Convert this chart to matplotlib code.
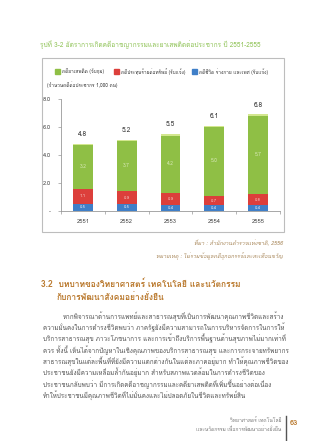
import matplotlib
matplotlib.use('Agg')
import matplotlib.pyplot as plt
from matplotlib import font_manager
from matplotlib.patches import Rectangle
from fontTools.ttLib import TTFont

# data
years = ['2551', '2552', '2553', '2554', '2555']
drugs = [3.2, 3.7, 4.2, 5.0, 5.7]        # green
property_cases = [1.1, 0.9, 0.9, 0.7, 0.8]  # red
body_cases = [0.5, 0.5, 0.4, 0.4, 0.4]   # blue
totals = [4.8, 5.2, 5.5, 6.1, 6.8]
yticks = [0, 2, 4, 6, 8]
ytick_labels = ['-', '2.0', '4.0', '6.0', '8.0']

title = 'รูปที่ 3-2 อัตราการเกิดคดีอาชญากรรมและยาเสพติดต่อประชากร ปี 2551-2555'
legend_labels = ['คดียาเสพติด (จับกุม)', 'คดีประทุษร้ายต่อทรัพย์ (รับแจ้ง)',
                 'คดีชีวิต ร่างกาย และเพศ (รับแจ้ง)']
unit_text = '(จำนวนคดีต่อประชากร 1,000 คน)'
source_lines = ['ที่มา : สำนักงานตำรวจแห่งชาติ, 2556',
                'หมายเหตุ : ไม่รวมข้อมูลคดีอุกฉกรรจ์และสะเทือนขวัญ']
heading = ['3.2  บทบาทของวิทยาศาสตร์ เทคโนโลยี และนวัตกรรม',
           'กับการพัฒนาสังคมอย่างยั่งยืน']
paragraph = [
    'หากพิจารณาด้านการแพทย์และสาธารณสุขที่เป็นการพัฒนาคุณภาพชีวิตและสร้าง',
    'ความมั่นคงในการดำรงชีวิตพบว่า ภาครัฐยังมีความสามารถในการบริหารจัดการในการให้',
    'บริการสาธารณสุข ภาวะโภชนาการ และการเข้าถึงบริการพื้นฐานด้านสุขภาพไม่มากเท่าที่',
    'ควร ทั้งนี้ เห็นได้จากปัญหาในเชิงคุณภาพของบริการสาธารณสุข และการกระจายทรัพยากร',
    'สาธารณสุขในแต่ละพื้นที่ที่ยังมีความแตกต่างกันในแต่ละภาคอยู่มาก ทำให้คุณภาพชีวิตของ',
    'ประชาชนยังมีความเหลื่อมล้ำกันอยู่มาก สำหรับสภาพแวดล้อมในการดำรงชีวิตของ',
    'ประชาชนกลับพบว่า มีการเกิดคดีอาชญากรรมและคดียาเสพติดที่เพิ่มขึ้นอย่างต่อเนื่อง',
    'ทำให้ประชาชนมีคุณภาพชีวิตที่ไม่มั่นคงและไม่ปลอดภัยในชีวิตและทรัพย์สิน',
]
footer = ['วิทยาศาสตร์ เทคโนโลยี', 'และนวัตกรรม เพื่อการพัฒนาอย่างยั่งยืน']
page_no = '63'


def thai_font():
    # look for any installed font that has Thai glyphs
    for f in font_manager.fontManager.ttflist:
        try:
            cmap = TTFont(f.fname, fontNumber=0, lazy=True).getBestCmap()
        except Exception:
            continue
        if cmap and 0x0E01 in cmap:
            return f.name
    return 'DejaVu Sans'


plt.rcParams['font.family'] = [thai_font(), 'DejaVu Sans']

W, H = 320, 441
fig = plt.figure(figsize=(W / 100, H / 100), dpi=100)
fig.patch.set_facecolor('white')


def fx(px):
    return px / W


def fy(py):
    return 1 - py / H


green = '#8fbf45'
green_top = '#d3e78f'
red = '#dc3f3b'
blue = '#3f7fc8'

# title and chart frame
fig.text(fx(40), fy(45), title, color='#8cc152', fontsize=4.7, va='center')
fig.patches.append(Rectangle((fx(42), fy(232)), fx(284) - fx(42), fy(58) - fy(232),
                             transform=fig.transFigure, fill=False,
                             edgecolor='#bdbdbd', linewidth=0.8))

# legend row
for x0, lab, c in zip([57, 116, 194], legend_labels, [green, red, blue]):
    fig.patches.append(Rectangle((fx(x0 - 2.5), fy(73.5)), fx(5), 5 / H,
                                 transform=fig.transFigure, color=c))
    fig.text(fx(x0 + 5), fy(71.5), lab, fontsize=3.4, color='#333333', va='center')
fig.text(fx(47), fy(85), unit_text, fontsize=3.4, color='#333333', va='center')

# bar chart
ax = fig.add_axes([fx(61), fy(211), fx(280) - fx(61), fy(99) - fy(211)])
x = list(range(len(years)))
bw = 0.45
ax.bar(x, body_cases, bw, color=blue)
ax.bar(x, property_cases, bw, bottom=body_cases, color=red)
bot2 = [a + b for a, b in zip(body_cases, property_cases)]
ax.bar(x, drugs, bw, bottom=bot2, color=green)
tops = [a + b for a, b in zip(bot2, drugs)]
ax.bar(x, [0.12] * len(x), bw, bottom=[t - 0.12 for t in tops], color=green_top)

for i in x:
    ax.text(i, body_cases[i] / 2, f'{body_cases[i]:.1f}', ha='center', va='center',
            fontsize=3.2, color='#dfe9f7')
    ax.text(i, body_cases[i] + property_cases[i] / 2, f'{property_cases[i]:.1f}',
            ha='center', va='center', fontsize=3.2, color='#f4c2c0')
    ax.text(i, bot2[i] + drugs[i] / 2, f'{drugs[i]:.1f}', ha='center', va='center',
            fontsize=3.6, color='#d6e8b4')
    ax.text(i, tops[i] + 0.65, f'{totals[i]:.1f}', ha='center', va='center',
            fontsize=4.8, color='#333333')

ax.set_xlim(-0.5, 4.5)
ax.set_ylim(0, 8)
ax.set_yticks(yticks)
ax.set_yticklabels(ytick_labels, fontsize=4.2, color='#444444')
ax.set_xticks([i - 0.5 for i in range(len(years) + 1)])
ax.set_xticklabels([])
ax.set_xticks(x, minor=True)
ax.set_xticklabels(years, minor=True, fontsize=4.2, color='#444444')
ax.tick_params(axis='x', which='minor', length=0, pad=6)
ax.tick_params(axis='x', which='major', length=2, width=0.5, color='#999999')
ax.tick_params(axis='y', length=2, width=0.5, color='#999999', pad=5)
for s in ['top', 'right']:
    ax.spines[s].set_visible(False)
for s in ['left', 'bottom']:
    ax.spines[s].set_color('#999999')
    ax.spines[s].set_linewidth(0.6)

# source notes
for yy, line in zip([243, 256], source_lines):
    fig.text(fx(283), fy(yy), line, ha='right', va='center', fontsize=3.9,
             color='#a8875a', style='italic')

# section heading
fig.text(fx(41), fy(284), heading[0], fontsize=6.1, fontweight='bold',
         color='#b9782c', va='center')
fig.text(fx(57), fy(297), heading[1], fontsize=6.1, fontweight='bold',
         color='#b9782c', va='center')

# body paragraph
for k, line in enumerate(paragraph):
    x0 = 63 if k == 0 else 43
    fig.text(fx(x0), fy(316 + k * 11.3), line, fontsize=4.55, color='#555555',
             va='center')

# footer
fig.text(fx(281), fy(420), footer[0], ha='right', va='center', fontsize=3.6,
         color='#777777')
fig.text(fx(281), fy(429), footer[1], ha='right', va='center', fontsize=3.6,
         color='#777777')
fig.lines.append(plt.Line2D([fx(286), fx(286)], [fy(416), fy(441)],
                            transform=fig.transFigure, color='#555555', linewidth=1))
fig.text(fx(290), fy(423), page_no, fontsize=5.4, fontweight='bold',
         color='#b9782c', va='center')

fig.savefig('out.png', dpi=100)
